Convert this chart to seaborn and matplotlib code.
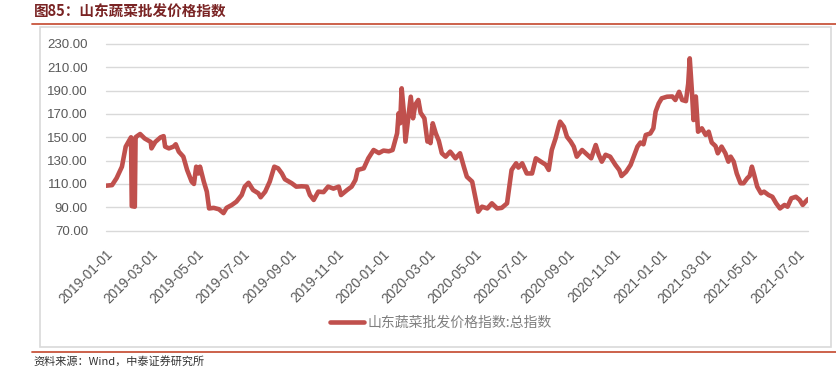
import matplotlib
matplotlib.use("Agg")
import matplotlib.pyplot as plt
from matplotlib.patches import Rectangle
from matplotlib.lines import Line2D
import seaborn as sns
import pandas as pd

# ---- data ----
dates = [
    "2019-01-01", "2019-01-09", "2019-01-15", "2019-01-22", "2019-01-27", "2019-02-02",
    "2019-02-03", "2019-02-04", "2019-02-08", "2019-02-09", "2019-02-11", "2019-02-15",
    "2019-02-21", "2019-03-01", "2019-03-02", "2019-03-07", "2019-03-14", "2019-03-18",
    "2019-03-20", "2019-03-25", "2019-03-31", "2019-04-03", "2019-04-07", "2019-04-13",
    "2019-04-18", "2019-04-24", "2019-04-27", "2019-04-30", "2019-05-03", "2019-05-05",
    "2019-05-10", "2019-05-14", "2019-05-17", "2019-05-23", "2019-05-30", "2019-06-05",
    "2019-06-09", "2019-06-16", "2019-06-22", "2019-06-29", "2019-07-03", "2019-07-08",
    "2019-07-14", "2019-07-21", "2019-07-24", "2019-07-30", "2019-08-05", "2019-08-11",
    "2019-08-16", "2019-08-21", "2019-08-25", "2019-09-03", "2019-09-09", "2019-09-16",
    "2019-09-23", "2019-09-27", "2019-10-02", "2019-10-08", "2019-10-15", "2019-10-21",
    "2019-10-28", "2019-11-04", "2019-11-07", "2019-11-15", "2019-11-21", "2019-11-26",
    "2019-11-29", "2019-12-07", "2019-12-13", "2019-12-20", "2019-12-27", "2020-01-02",
    "2020-01-09", "2020-01-14", "2020-01-17", "2020-01-20", "2020-01-22", "2020-01-24",
    "2020-01-26", "2020-01-29", "2020-01-31", "2020-02-04", "2020-02-07", "2020-02-10",
    "2020-02-13", "2020-02-17", "2020-02-20", "2020-02-25", "2020-02-29", "2020-03-02",
    "2020-03-04", "2020-03-07", "2020-03-11", "2020-03-15", "2020-03-19", "2020-03-24",
    "2020-03-30", "2020-04-06", "2020-04-12", "2020-04-17", "2020-04-21", "2020-04-28",
    "2020-05-02", "2020-05-06", "2020-05-11", "2020-05-18", "2020-05-24", "2020-05-31",
    "2020-06-06", "2020-06-13", "2020-06-16", "2020-06-19", "2020-06-25", "2020-06-28",
    "2020-07-03", "2020-07-09", "2020-07-16", "2020-07-21", "2020-07-27", "2020-08-03",
    "2020-08-07", "2020-08-11", "2020-08-16", "2020-08-20", "2020-08-22", "2020-08-27",
    "2020-08-31", "2020-09-05", "2020-09-09", "2020-09-13", "2020-09-20", "2020-09-27",
    "2020-10-02", "2020-10-08", "2020-10-12", "2020-10-16", "2020-10-21", "2020-10-27",
    "2020-11-03", "2020-11-08", "2020-11-11", "2020-11-17", "2020-11-23", "2020-11-27",
    "2020-12-02", "2020-12-06", "2020-12-10", "2020-12-13", "2020-12-19", "2020-12-23",
    "2020-12-26", "2020-12-30", "2021-01-03", "2021-01-10", "2021-01-17", "2021-01-21",
    "2021-01-26", "2021-01-30", "2021-02-04", "2021-02-07", "2021-02-09", "2021-02-12",
    "2021-02-14", "2021-02-17", "2021-02-20", "2021-02-25", "2021-03-02", "2021-03-06",
    "2021-03-10", "2021-03-15", "2021-03-18", "2021-03-23", "2021-03-28", "2021-04-01",
    "2021-04-04", "2021-04-08", "2021-04-12", "2021-04-17", "2021-04-21", "2021-04-26",
    "2021-04-29", "2021-05-02", "2021-05-05", "2021-05-09", "2021-05-14", "2021-05-18",
    "2021-05-24", "2021-05-29", "2021-06-03", "2021-06-08", "2021-06-14", "2021-06-18",
    "2021-06-23", "2021-06-29", "2021-07-04", "2021-07-08", "2021-07-12", "2021-07-15",
]
index_values = [
    108.5, 109.0, 115.0, 124.8, 142.0, 149.0,
    150.0, 91.0, 90.5, 150.0, 151.0, 152.8,
    149.0, 146.0, 140.5, 146.0, 150.0, 151.0,
    142.0, 140.5, 142.0, 144.0, 137.7, 133.4,
    122.0, 112.0, 110.0, 124.8, 119.0, 124.8,
    112.0, 103.4, 89.0, 89.5, 88.3, 85.0,
    89.5, 92.0, 94.8, 100.5, 107.7, 111.0,
    104.8, 102.0, 98.6, 103.4, 112.0, 124.8,
    123.4, 119.0, 114.0, 110.6, 107.7, 108.0,
    107.7, 100.5, 96.3, 103.4, 103.0, 107.7,
    106.0, 107.7, 100.5, 104.8, 107.7, 113.4,
    122.0, 123.4, 132.0, 139.1, 136.5, 138.6,
    138.0, 139.1, 146.3, 153.4, 170.6, 162.0,
    192.0, 170.6, 146.3, 168.0, 184.8, 166.3,
    178.0, 182.0, 171.0, 166.3, 146.3, 149.0,
    145.0, 162.0, 153.4, 147.0, 136.3, 133.4,
    137.7, 132.0, 136.3, 124.8, 116.2, 112.0,
    99.0, 86.2, 90.5, 89.0, 93.4, 89.0,
    89.5, 93.4, 107.7, 122.0, 127.7, 124.0,
    127.7, 119.0, 119.0, 132.0, 129.4, 126.5,
    122.0, 139.1, 149.0, 159.0, 163.4, 159.0,
    150.5, 146.3, 142.0, 133.4, 139.1, 135.0,
    132.0, 143.4, 135.0, 129.1, 135.0, 133.4,
    126.3, 122.0, 116.8, 120.4, 126.3, 133.4,
    142.0, 145.5, 144.0, 152.0, 153.3, 157.7,
    172.0, 179.0, 183.4, 184.8, 185.0, 182.0,
    189.0, 182.0, 181.0, 196.0, 217.7, 188.0,
    164.8, 185.0, 154.8, 157.7, 152.0, 154.8,
    145.5, 142.5, 136.3, 142.0, 136.3, 129.1,
    133.4, 129.1, 119.0, 110.6, 110.6, 115.0,
    116.8, 124.8, 117.8, 107.7, 102.0, 103.4,
    100.5, 99.0, 93.4, 89.0, 92.0, 90.5,
    97.7, 99.0, 96.3, 92.0, 95.0, 97.0,
]
series_name = "山东蔬菜批发价格指数:总指数"
title_text = "图85：山东蔬菜批发价格指数"
source_text = "资料来源：Wind，中泰证券研究所"
y_ticks = [70, 90, 110, 130, 150, 170, 190, 210, 230]
x_ticks = ["2019-01-01", "2019-03-01", "2019-05-01", "2019-07-01", "2019-09-01",
           "2019-11-01", "2020-01-01", "2020-03-01", "2020-05-01", "2020-07-01",
           "2020-09-01", "2020-11-01", "2021-01-01", "2021-03-01", "2021-05-01",
           "2021-07-01"]

df = pd.DataFrame({"date": pd.to_datetime(dates), "value": index_values})

sns.set_theme(style="white")
plt.rcParams["font.family"] = ["Liberation Sans", "Noto Sans CJK SC", "DejaVu Sans"]

W, H = 837, 367
fig = plt.figure(figsize=(W / 100, H / 100), dpi=100)
fig.patch.set_facecolor("white")

# chart frame (outline only)
frame = Rectangle((40 / W, 1 - 347 / H), (831 - 40) / W, (347 - 27) / H,
                  transform=fig.transFigure, facecolor="none",
                  edgecolor="#D9D9D9", linewidth=1.2, zorder=-1)
fig.patches.append(frame)

# title and rules
fig.text(34 / W, 1 - 12 / H, title_text, fontsize=10.5, fontweight="bold",
         color="#7A2424", va="center", ha="left",
         family=["Noto Sans CJK SC", "DejaVu Sans"])
fig.add_artist(Line2D([32 / W, 1.0], [1 - 24 / H, 1 - 24 / H],
                      transform=fig.transFigure, color="#C8553D", linewidth=1.3))
fig.add_artist(Line2D([32 / W, 1.0], [1 - 352 / H, 1 - 352 / H],
                      transform=fig.transFigure, color="#C8553D", linewidth=1.3))
fig.text(33 / W, 1 - 361 / H, source_text, fontsize=8, color="#333333",
         va="center", ha="left", style="italic",
         family=["Noto Sans CJK SC", "DejaVu Sans"])

left, right = 106 / W, 808 / W
top, bottom = 1 - 44 / H, 1 - 230.6 / H
ax = fig.add_axes([left, bottom, right - left, top - bottom])
ax.patch.set_alpha(0)

sns.lineplot(data=df, x="date", y="value", ax=ax, color="#C0504D",
             linewidth=3.3, legend=False)

ax.set_ylim(70, 230)
ax.set_xlim(pd.Timestamp("2019-01-01"), pd.Timestamp("2021-07-15"))
ax.set_yticks(y_ticks)
ax.set_yticklabels([f"{v:.2f}" for v in y_ticks])
ax.set_xticks(pd.to_datetime(x_ticks))
ax.set_xticklabels(x_ticks, rotation=45, ha="right", rotation_mode="anchor")
ax.set_xlabel("")
ax.set_ylabel("")
for s in ax.spines.values():
    s.set_visible(False)
ax.grid(axis="y", color="#D9D9D9", linewidth=1.0)
ax.grid(axis="x", visible=False)
for gl in ax.get_ygridlines():
    gl.set_clip_on(False)
ax.set_axisbelow(True)
ax.tick_params(axis="y", length=0, pad=13, labelsize=9.5, labelcolor="#595959")
ax.tick_params(axis="x", length=0, pad=12, labelsize=9.8, labelcolor="#595959")

handle = Line2D([], [], color="#C0504D", linewidth=3.3)
fig.legend([handle], [series_name], loc="center",
           bbox_to_anchor=(441 / W, 1 - 323 / H), frameon=False,
           handlelength=2.4, handletextpad=0.25,
           prop={"family": ["Noto Sans CJK SC", "DejaVu Sans"], "size": 10},
           labelcolor="#7F7F7F")

fig.savefig("out.png", dpi=100, facecolor="white")
